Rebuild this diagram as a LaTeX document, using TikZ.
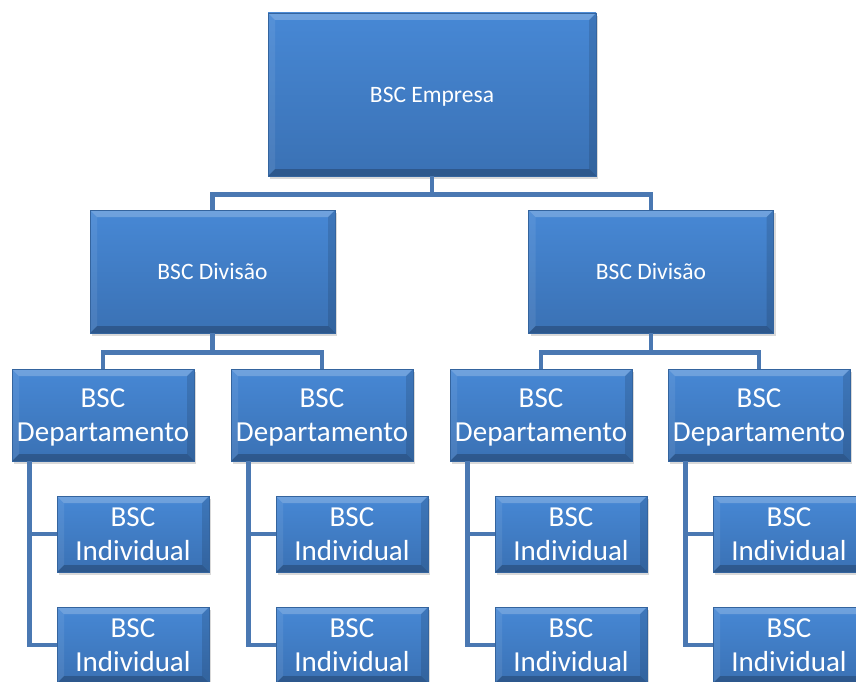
\documentclass[tikz,border=0pt]{standalone}
\usepackage{fontspec}
\setmainfont{Carlito}
\usetikzlibrary{shadows}
\definecolor{bsctop}{HTML}{4788D5}
\definecolor{bscbot}{HTML}{3A71B4}
\definecolor{bscedge}{HTML}{34649E}
\definecolor{bscline}{HTML}{4A78B2}
\newcommand\bscsmall{\fontsize{23.5}{28}\selectfont}
\newcommand\bscbig{\fontsize{29}{34}\selectfont}
\newcommand\bsclbl[1]{\raisebox{-2.2pt}[\height][\depth]{\begin{tabular}{@{}c@{}}#1\end{tabular}}}
\newcommand\bscbevel{%
  \coordinate (nw) at (path picture bounding box.north west);
  \coordinate (ne) at (path picture bounding box.north east);
  \coordinate (sw) at (path picture bounding box.south west);
  \coordinate (se) at (path picture bounding box.south east);
  \fill[white,opacity=.22] (nw) -- (ne) -- ([shift={(-7pt,-7pt)}]ne) -- ([shift={(7pt,-7pt)}]nw) -- cycle;
  \fill[black,opacity=.22] (sw) -- (se) -- ([shift={(-7pt,7pt)}]se) -- ([shift={(7pt,7pt)}]sw) -- cycle;
  \fill[black,opacity=.12] (ne) -- (se) -- ([shift={(-7pt,7pt)}]se) -- ([shift={(-7pt,-7pt)}]ne) -- cycle;
  \fill[white,opacity=.08] (nw) -- (sw) -- ([shift={(7pt,7pt)}]sw) -- ([shift={(7pt,-7pt)}]nw) -- cycle;
}
\tikzset{
  bscbox/.style={rectangle, draw=bscedge, line width=0.8pt, top color=bsctop, bottom color=bscbot,
    text=white, inner sep=0pt,
    drop shadow={opacity=0.3, shadow xshift=2pt, shadow yshift=-3pt},
    path picture={\bscbevel}},
  empbox/.style={minimum width=328pt, minimum height=163pt, font=\bscsmall},
  divbox/.style={minimum width=245pt, minimum height=123pt, font=\bscsmall},
  depbox/.style={minimum width=182pt, minimum height=92pt, font=\bscbig},
  indbox/.style={minimum width=152pt, minimum height=76pt, font=\bscbig},
  conn/.style={draw=bscline, line width=4.5pt},
}
\begin{document}
\begin{tikzpicture}[x=1pt,y=-1pt]
  \useasboundingbox (0,0) rectangle (856,682);
  \clip (0,0) rectangle (856,682);
  % topo
  \node[bscbox,empbox] (emp) at (432,94.5) {\bsclbl{BSC Empresa}};
  \node[bscbox,divbox] (div1) at (212.5,271.5) {\bsclbl{BSC Divisão}};
  \node[bscbox,divbox] (div2) at (651,271.5) {\bsclbl{BSC Divisão}};
  \draw[conn] (emp.south) -- ++(0,18) -| (div1.north);
  \draw[conn] (emp.south) -- ++(0,18) -| (div2.north);
  % departamentos e individuais
  \foreach \i/\x in {1/103,2/322,3/541,4/759}{
    \node[bscbox,depbox] (dep\i) at (\x,415) {\bsclbl{BSC\\Departamento}};
    \node[bscbox,indbox] (ind\i1) at (\x+30,534) {\bsclbl{BSC\\Individual}};
    \node[bscbox,indbox] (ind\i2) at (\x+30,645) {\bsclbl{BSC\\Individual}};
    \draw[conn] ([xshift=18pt]dep\i.south west) |- (ind\i1.west);
    \draw[conn] ([xshift=18pt]dep\i.south west) |- (ind\i2.west);
  }
  \draw[conn] (div1.south) -- ++(0,19) -| (dep1.north);
  \draw[conn] (div1.south) -- ++(0,19) -| (dep2.north);
  \draw[conn] (div2.south) -- ++(0,19) -| (dep3.north);
  \draw[conn] (div2.south) -- ++(0,19) -| (dep4.north);
\end{tikzpicture}
\end{document}
